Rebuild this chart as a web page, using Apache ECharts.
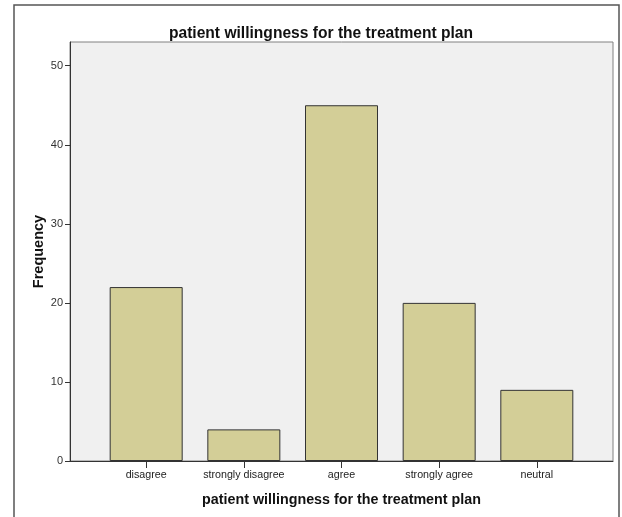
<!DOCTYPE html>
<html>
<head>
<meta charset="utf-8">
<script src="https://cdn.jsdelivr.net/npm/echarts@6/dist/echarts.min.js"></script>
<style>
  html, body { margin: 0; padding: 0; background: #ffffff; }
  #chart { width: 622px; height: 517px; }
</style>
</head>
<body>
<div id="chart"></div>
<script>
// Response categories and their counts
const categories = ['disagree', 'strongly disagree', 'agree', 'strongly agree', 'neutral'];
const frequencies = [22, 4, 45, 20, 9];
const yTicks = [0, 10, 20, 30, 40, 50];

const positions = categories.map((_, i) => i);
const barData = frequencies.map((v, i) => [positions[i], v]);

const FONT = '"Liberation Sans", Arial, sans-serif';

const chart = echarts.init(document.getElementById('chart'), null, { renderer: 'canvas' });
chart.setOption({
  animation: false,
  backgroundColor: '#ffffff',
  title: {
    text: 'patient willingness for the treatment plan',
    left: 316,
    top: 21,
    textAlign: 'center',
    textStyle: { fontFamily: FONT, fontSize: 15.6, fontWeight: 'bold', color: '#111' }
  },
  graphic: [{
    type: 'rect',
    shape: { x: 14, y: 5, width: 605, height: 530 },
    style: { fill: null, stroke: '#555', lineWidth: 1.5 },
    silent: true,
    z: -1
  }],
  grid: {
    left: 70, right: 9, top: 42, bottom: 56,
    show: true,
    backgroundColor: '#f0f0f0',
    borderColor: '#808080',
    borderWidth: 1
  },
  xAxis: {
    type: 'value',
    min: -0.78,
    max: 4.78,
    name: 'patient willingness for the treatment plan',
    nameLocation: 'middle',
    nameGap: 32,
    nameMoveOverlap: false,
    nameTextStyle: { fontFamily: FONT, fontSize: 14.3, fontWeight: 'bold', color: '#111' },
    axisLine: { show: true, onZero: false, lineStyle: { color: '#333', width: 1 } },
    axisTick: { show: true, customValues: positions, length: 7, lineStyle: { color: '#333' } },
    axisLabel: {
      customValues: positions,
      formatter: v => categories[Math.round(v)],
      fontFamily: FONT, fontSize: 10.7, color: '#222', margin: 9
    },
    splitLine: { show: false }
  },
  yAxis: {
    type: 'value',
    min: 0,
    max: 53,
    interval: 10,
    name: 'Frequency',
    nameLocation: 'middle',
    nameGap: 24,
    nameMoveOverlap: false,
    nameTextStyle: { fontFamily: FONT, fontSize: 14.5, fontWeight: 'bold', color: '#111' },
    axisLine: { show: true, onZero: false, lineStyle: { color: '#333', width: 1 } },
    axisTick: { show: true, customValues: yTicks, length: 5, lineStyle: { color: '#333' } },
    axisLabel: { customValues: yTicks, fontFamily: FONT, fontSize: 11, color: '#333', margin: 7 },
    splitLine: { show: false }
  },
  series: [{
    type: 'bar',
    data: barData,
    barWidth: 73,
    itemStyle: { color: '#d3ce97', borderColor: '#333', borderWidth: 1 }
  }]
});
</script>
</body>
</html>
